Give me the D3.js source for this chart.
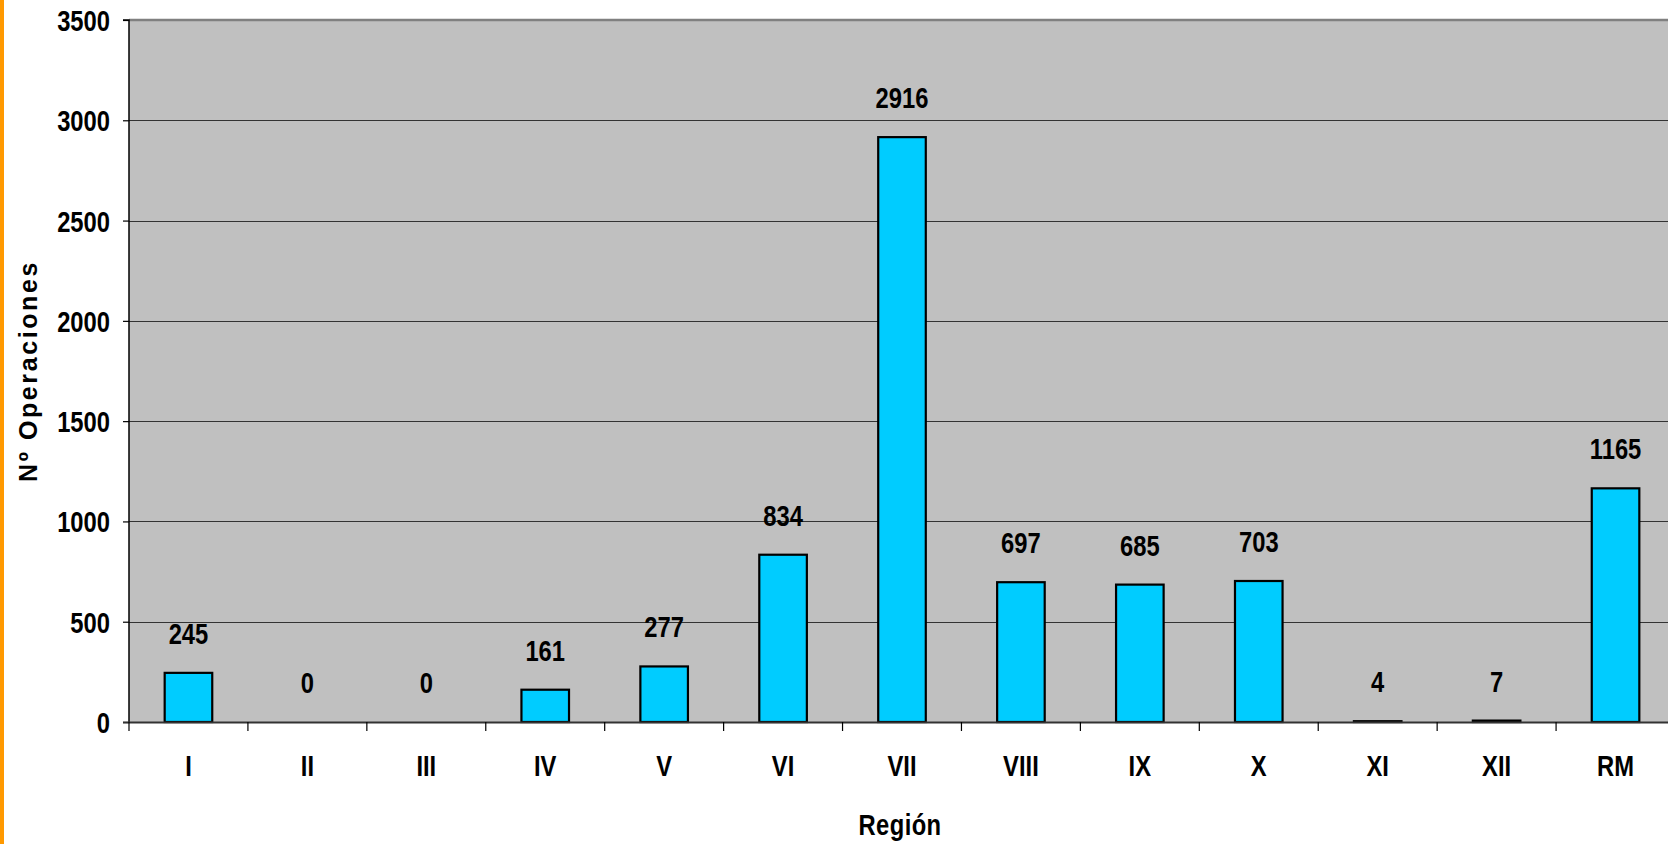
<!DOCTYPE html>
<html><head><meta charset="utf-8">
<script src="https://cdn.jsdelivr.net/npm/d3@7"></script>
<style>
html,body{margin:0;padding:0;background:#fff;overflow:hidden}
svg{display:block}
.lbl{font-family:"Liberation Sans",Arial,sans-serif;font-weight:bold;fill:#000}
</style></head>
<body>
<svg id="c" width="1668" height="844"></svg>
<script>
const categories = ["I","II","III","IV","V","VI","VII","VIII","IX","X","XI","XII","RM"];
const values = [245,0,0,161,277,834,2916,697,685,703,4,7,1165];
const yTicks = [0,500,1000,1500,2000,2500,3000,3500];
const xTitle = "Región";
const yTitle = "Nº Operaciones";

const svg = d3.select("#c");
const L = 129, R = 1675, T = 20, B = 722;
const SX = 0.82, FS = 29;

svg.append("rect").attr("x",0).attr("y",0).attr("width",4).attr("height",844).attr("fill","#FF9900");

const x = d3.scaleBand().domain(categories).range([L,R]).paddingInner(0.6).paddingOuter(0.3);
const xb = d3.scaleBand().domain(categories).range([L,R]);
const y = d3.scaleLinear().domain([0,3500]).range([B,T]);

svg.append("rect").attr("x",L).attr("y",T).attr("width",R-L).attr("height",B-T).attr("fill","#C0C0C0");

// gridlines
svg.append("g").selectAll("line").data(yTicks.filter(d=>d>0 && d<3500)).join("line")
  .attr("x1",L).attr("x2",R).attr("y1",d=>Math.round(y(d))+0.5).attr("y2",d=>Math.round(y(d))+0.5)
  .attr("stroke","#333").attr("stroke-width",1);
svg.append("line").attr("x1",L).attr("x2",R).attr("y1",y(3500)).attr("y2",y(3500))
  .attr("stroke","#808080").attr("stroke-width",2.5);

// bars
svg.append("g").selectAll("rect").data(values).join("rect")
  .attr("x",(d,i)=>x(categories[i]))
  .attr("width",x.bandwidth())
  .attr("y",d=>y(d))
  .attr("height",d=>B-y(d))
  .attr("fill","#00CCFF").attr("stroke","#000").attr("stroke-width",2.2);

// condensed text helper
function ctext(g, tx, ty, str, anchor){
  return g.append("text").attr("class","lbl").attr("font-size",FS)
    .attr("text-anchor",anchor||"middle")
    .attr("transform",`translate(${tx},${ty}) scale(${SX},1)`)
    .text(str);
}

// value labels
const gv = svg.append("g");
values.forEach((d,i)=>ctext(gv, xb(categories[i])+xb.bandwidth()/2, y(d)-29, d));

// y axis
const yAxis = d3.axisLeft(y).tickValues(yTicks).tickFormat(d3.format("d")).tickSize(6).tickPadding(12);
const gy = svg.append("g").attr("transform",`translate(${L},0)`).call(yAxis);
gy.select(".domain").attr("stroke","#000").attr("stroke-width",1.5).attr("d",`M-6,${T}H0V${B}`);
gy.selectAll(".tick line").attr("stroke","#000").attr("stroke-width",1.2);
gy.selectAll(".tick text").attr("class","lbl").attr("font-size",FS).attr("dy","0.36em").attr("fill","#000")
  .attr("x",-19/SX).attr("transform",`scale(${SX},1)`);

// x axis
const xAxis = d3.axisBottom(xb).tickSize(0).tickPadding(0);
const gx = svg.append("g").attr("transform",`translate(0,${B})`).call(xAxis);
gx.select(".domain").remove();
gx.selectAll(".tick text").attr("class","lbl").attr("font-size",FS).attr("y",54).attr("dy",0).attr("fill","#000")
  .attr("transform",`scale(${SX},1)`);
svg.append("line").attr("x1",L-6).attr("x2",R).attr("y1",B+0.5).attr("y2",B+0.5).attr("stroke","#333").attr("stroke-width",2);
svg.append("g").selectAll("line").data(d3.range(categories.length+1)).join("line")
  .attr("x1",i=>L+i*xb.step()).attr("x2",i=>L+i*xb.step())
  .attr("y1",B).attr("y2",B+9).attr("stroke","#000").attr("stroke-width",1.2);

// titles
ctext(svg, (L+R)/2 - 2, 835, xTitle).attr("letter-spacing",0.5);
svg.append("text").attr("transform",`translate(37,${(T+B)/2}) rotate(-90)`).attr("text-anchor","middle")
  .attr("font-family","'Liberation Sans',Arial,sans-serif").attr("font-weight","bold").attr("font-size",25)
  .attr("letter-spacing",2.6).text(yTitle);
</script>
</body></html>
